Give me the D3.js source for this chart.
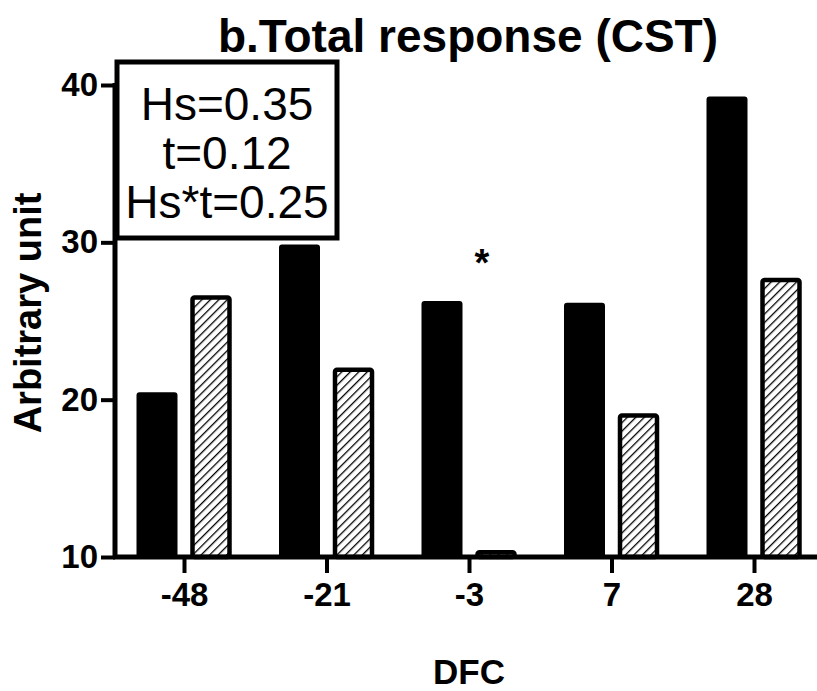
<!DOCTYPE html>
<html>
<head>
<meta charset="utf-8">
<script src="https://d3js.org/d3.v7.min.js"></script>
<style>
  body { margin: 0; background: #fff; }
  text { font-family: "Liberation Sans", Arial, sans-serif; }
</style>
</head>
<body>
<script>
// data
var dfc = ["-48", "-21", "-3", "7", "28"];
var solid = [20.4, 29.8, 26.2, 26.1, 39.2];
var hatched = [26.5, 21.9, 10.3, 19.0, 27.6];
var yTicks = [10, 20, 30, 40];
var stats = ["Hs=0.35", "t=0.12", "Hs*t=0.25"];
var starAt = "-3";

var width = 817, height = 691;
var plotL = 115, plotR = 830, plotT = 85, plotB = 557;

var svg = d3.select("body").append("svg")
  .attr("width", width)
  .attr("height", height);

// diagonal hatch for the second series
svg.append("defs").append("pattern")
  .attr("id", "hatch")
  .attr("patternUnits", "userSpaceOnUse")
  .attr("width", 6).attr("height", 6)
  .attr("patternTransform", "rotate(45)")
  .append("line")
  .attr("x1", 0).attr("y1", 0).attr("x2", 0).attr("y2", 6)
  .attr("stroke", "#000").attr("stroke-width", 2.6);

var x = d3.scalePoint().domain(dfc).range([184, 754]);
var y = d3.scaleLinear().domain([10, 40]).range([plotB, plotT]);

var barW = 39, gap = 15;

var g = svg.append("g");
g.selectAll(".solid").data(dfc).enter().append("rect")
  .attr("class", "solid")
  .attr("x", function(d) { return x(d) - gap / 2 - barW; })
  .attr("y", function(d, i) { return y(solid[i]); })
  .attr("width", barW)
  .attr("height", function(d, i) { return y(10) - y(solid[i]); })
  .attr("rx", 2)
  .attr("fill", "#000")
  .attr("stroke", "#000").attr("stroke-width", 2);

g.selectAll(".hatch").data(dfc).enter().append("rect")
  .attr("class", "hatch")
  .attr("x", function(d) { return x(d) + gap / 2 + 1; })
  .attr("y", function(d, i) { return y(hatched[i]); })
  .attr("width", barW - 2)
  .attr("height", function(d, i) { return y(10) - y(hatched[i]); })
  .attr("rx", 2)
  .attr("fill", "url(#hatch)")
  .attr("stroke", "#000").attr("stroke-width", 4.5);

// axes
var yAxis = svg.append("g")
  .attr("transform", "translate(" + plotL + ",0)")
  .call(d3.axisLeft(y).tickValues(yTicks).tickSize(14).tickPadding(3).tickFormat(d3.format("d")));
yAxis.select(".domain").attr("stroke-width", 5).attr("d", "M0," + (plotT - 2) + "V" + (plotB + 2));
yAxis.selectAll(".tick line").attr("stroke-width", 4);
yAxis.selectAll(".tick text").attr("font-size", 33).attr("font-weight", "bold")
  .attr("font-family", "Liberation Sans, Arial, sans-serif").attr("fill", "#000");

var xAxis = svg.append("g")
  .attr("transform", "translate(0," + plotB + ")")
  .call(d3.axisBottom(x).tickSize(16).tickPadding(10));
xAxis.select(".domain").attr("stroke-width", 5).attr("d", "M" + (plotL - 2) + ",0H" + plotR);
xAxis.selectAll(".tick line").attr("stroke-width", 4);
xAxis.selectAll(".tick text").attr("font-size", 33).attr("font-weight", "bold")
  .attr("font-family", "Liberation Sans, Arial, sans-serif").attr("fill", "#000");

// significance star
svg.append("text")
  .attr("x", x(starAt) + 13).attr("y", 276)
  .attr("text-anchor", "middle")
  .attr("font-size", 38).attr("font-weight", "bold")
  .text("*");

// stats box
var box = svg.append("g");
box.append("rect")
  .attr("x", 117).attr("y", 62).attr("width", 220).attr("height", 176)
  .attr("fill", "#fff").attr("stroke", "#000").attr("stroke-width", 5);
box.selectAll("text").data(stats).enter().append("text")
  .attr("x", 227)
  .attr("y", function(d, i) { return 120 + i * 49; })
  .attr("text-anchor", "middle")
  .attr("font-size", 46)
  .text(function(d) { return d; });

// titles
svg.append("text")
  .attr("x", 468).attr("y", 52)
  .attr("text-anchor", "middle")
  .attr("font-size", 46).attr("font-weight", "bold")
  .text("b.Total response (CST)");

svg.append("text")
  .attr("transform", "translate(41,313) rotate(-90)")
  .attr("text-anchor", "middle")
  .attr("font-size", 38).attr("font-weight", "bold")
  .text("Arbitrary unit");

svg.append("text")
  .attr("x", 469).attr("y", 684)
  .attr("text-anchor", "middle")
  .attr("font-size", 35).attr("font-weight", "bold")
  .text("DFC");
</script>
</body>
</html>
